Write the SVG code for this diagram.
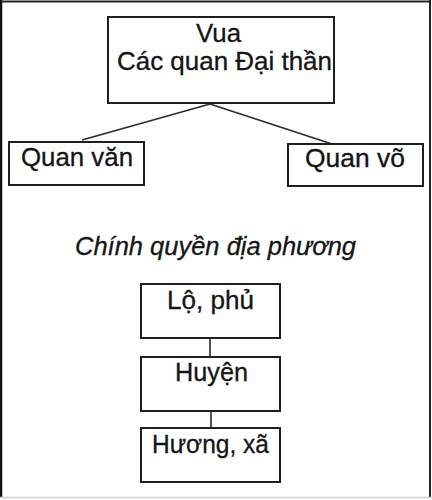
<svg xmlns="http://www.w3.org/2000/svg" width="432" height="500" viewBox="0 0 432 500">
<style>
.box{fill:#fff;stroke:#1e1e1e;stroke-width:2}
.lbl{font-family:"Liberation Sans",Arial,sans-serif;font-size:25px;fill:#151515;stroke:#151515;stroke-width:0.3;text-anchor:start}
.conn{stroke:#2a2a2a;stroke-width:1.6;fill:none}
</style>
<rect x="0" y="0" width="432" height="500" fill="#fff"/>
<g id="frame">
<line x1="1" y1="1.5" x2="430" y2="1.5" stroke="#222" stroke-width="2"/>
<line x1="1" y1="0" x2="1" y2="498" stroke="#111" stroke-width="2.5"/>
<line x1="430" y1="0" x2="430" y2="498" stroke="#222" stroke-width="2"/>
<line x1="0" y1="497.5" x2="432" y2="497.5" stroke="#cfcfcf" stroke-width="1.5"/>
</g>
<g id="connectors">
<line class="conn" x1="210" y1="104" x2="82" y2="140"/>
<line class="conn" x1="210" y1="104" x2="332" y2="144"/>
<line class="conn" x1="210" y1="338" x2="210" y2="357"/>
<line class="conn" x1="211" y1="411" x2="211" y2="428"/>
</g>
<g id="vua">
<rect class="box" x="108" y="17" width="226" height="86"/>
<text class="lbl" x="196" y="42" textLength="45" lengthAdjust="spacingAndGlyphs">Vua</text>
<text class="lbl" x="117" y="70" textLength="215" lengthAdjust="spacingAndGlyphs">Các quan Đại thần</text>
</g>
<g id="quan-van">
<rect class="box" x="9" y="142" width="135" height="43"/>
<text class="lbl" x="21" y="166" textLength="112" lengthAdjust="spacingAndGlyphs">Quan văn</text>
</g>
<g id="quan-vo">
<rect class="box" x="288" y="144" width="135" height="42"/>
<text class="lbl" x="305" y="167" textLength="100" lengthAdjust="spacingAndGlyphs">Quan võ</text>
</g>
<g id="title">
<text class="lbl" x="75" y="255" font-style="italic" font-size="22" textLength="281" lengthAdjust="spacingAndGlyphs">Chính quyền địa phương</text>
</g>
<g id="lo-phu">
<rect class="box" x="141" y="284" width="139" height="54"/>
<text class="lbl" x="167" y="309" textLength="87" lengthAdjust="spacingAndGlyphs">Lộ, phủ</text>
</g>
<g id="huyen">
<rect class="box" x="141" y="357" width="139" height="54"/>
<text class="lbl" x="175" y="381" textLength="73" lengthAdjust="spacingAndGlyphs">Huyện</text>
</g>
<g id="huong-xa">
<rect class="box" x="141" y="428" width="139" height="54"/>
<text class="lbl" x="152" y="453" textLength="117" lengthAdjust="spacingAndGlyphs">Hương, xã</text>
</g>
</svg>
